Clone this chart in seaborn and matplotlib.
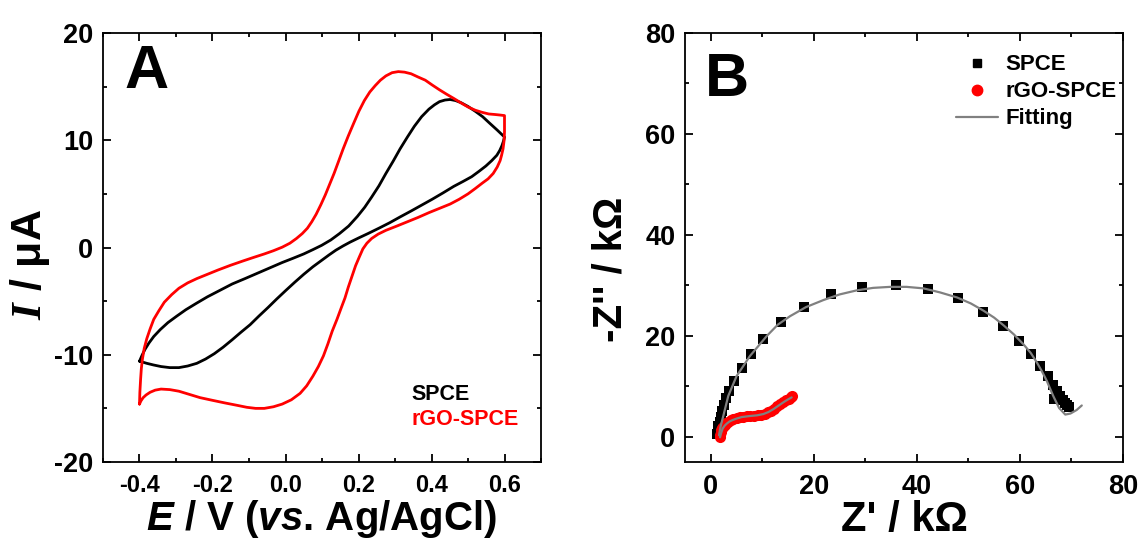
import matplotlib
matplotlib.use('Agg')
import matplotlib.pyplot as plt
import seaborn as sns
import pandas as pd
from matplotlib.lines import Line2D
from matplotlib.ticker import MultipleLocator, FormatStrFormatter

# ---------------- Panel A: cyclic voltammograms ----------------
spce_E = [-0.400, -0.393, -0.385, -0.374, -0.361, -0.343, -0.322, -0.298, -0.273, -0.244,
          -0.214, -0.180, -0.146, -0.111, -0.077, -0.043, -0.009, 0.021, 0.050, 0.075,
          0.099, 0.124, 0.148, 0.173, 0.197, 0.217, 0.236, 0.256, 0.275, 0.295,
          0.314, 0.334, 0.353, 0.373, 0.393, 0.408, 0.422, 0.437, 0.451, 0.466,
          0.481, 0.500, 0.520, 0.540, 0.559, 0.580, 0.600,
          0.597, 0.593, 0.587, 0.579, 0.565, 0.549, 0.530, 0.510, 0.486, 0.461,
          0.432, 0.402, 0.373, 0.344, 0.314, 0.285, 0.256, 0.226, 0.201, 0.177,
          0.158, 0.138, 0.119, 0.099, 0.075, 0.050, 0.025, 0.001, -0.024, -0.048,
          -0.073, -0.097, -0.122, -0.146, -0.171, -0.195, -0.219, -0.243, -0.268, -0.292,
          -0.317, -0.341, -0.362, -0.380, -0.400]
spce_I = [-10.6, -10.05, -9.5, -8.9, -8.3, -7.65, -7.0, -6.4, -5.8, -5.2,
          -4.6, -4.0, -3.4, -2.9, -2.4, -1.9, -1.4, -1.0, -0.6, -0.2,
          0.2, 0.7, 1.3, 2.0, 2.9, 3.75, 4.7, 5.75, 6.9, 8.05,
          9.2, 10.3, 11.3, 12.2, 12.9, 13.3, 13.6, 13.75, 13.8, 13.7,
          13.5, 13.15, 12.7, 12.2, 11.6, 10.95, 10.3,
          9.9, 9.5, 9.05, 8.6, 8.1, 7.6, 7.1, 6.6, 6.15, 5.7,
          5.1, 4.5, 3.95, 3.4, 2.85, 2.3, 1.8, 1.3, 0.9, 0.5,
          0.15, -0.25, -0.7, -1.2, -1.8, -2.5, -3.25, -4.0, -4.8, -5.6,
          -6.4, -7.2, -7.9, -8.6, -9.3, -9.9, -10.4, -10.8, -11.05, -11.2,
          -11.2, -11.1, -10.95, -10.8, -10.6]

rgo_E = [-0.400, -0.399, -0.397, -0.395, -0.392, -0.387, -0.380, -0.371, -0.361, -0.347,
         -0.332, -0.312, -0.292, -0.268, -0.243, -0.214, -0.185, -0.150, -0.116, -0.087,
         -0.058, -0.033, -0.009, 0.012, 0.030, 0.046, 0.060, 0.072, 0.084, 0.097,
         0.109, 0.121, 0.133, 0.145, 0.158, 0.172, 0.187, 0.201, 0.216, 0.231,
         0.246, 0.260, 0.275, 0.292, 0.309, 0.326, 0.344, 0.363, 0.383, 0.402,
         0.422, 0.441, 0.461, 0.480, 0.500, 0.520, 0.539, 0.557, 0.574, 0.588, 0.600,
         0.600, 0.600, 0.599, 0.596, 0.592, 0.588, 0.580, 0.569, 0.555, 0.539,
         0.520, 0.500, 0.476, 0.451, 0.422, 0.393, 0.363, 0.334, 0.305, 0.275,
         0.254, 0.236, 0.223, 0.212, 0.202, 0.192, 0.182, 0.172, 0.163, 0.153,
         0.141, 0.128, 0.116, 0.104, 0.090, 0.075, 0.058, 0.040, 0.016, -0.009,
         -0.033, -0.058, -0.082, -0.106, -0.135, -0.165, -0.200, -0.234, -0.263, -0.292,
         -0.317, -0.341, -0.357, -0.371, -0.382, -0.390, -0.396, -0.400]
rgo_I = [-14.6, -13.5, -12.3, -11.3, -10.4, -9.4, -8.5, -7.6, -6.7, -5.9,
         -5.1, -4.4, -3.8, -3.3, -2.9, -2.5, -2.1, -1.65, -1.25, -0.92,
         -0.6, -0.3, 0.03, 0.4, 0.84, 1.3, 1.8, 2.4, 3.1, 4.0,
         4.9, 5.9, 6.9, 8.0, 9.2, 10.4, 11.6, 12.7, 13.7, 14.5,
         15.1, 15.6, 16.0, 16.3, 16.4, 16.35, 16.2, 15.9, 15.6, 15.15,
         14.7, 14.3, 13.9, 13.5, 13.1, 12.8, 12.6, 12.45, 12.4, 12.35, 12.3,
         11.5, 10.8, 10.0, 9.2, 8.6, 8.1, 7.5, 6.9, 6.4, 6.0,
         5.5, 5.0, 4.5, 4.05, 3.65, 3.25, 2.8, 2.4, 2.0, 1.6,
         1.25, 0.84, 0.4, -0.13, -0.9, -1.7, -2.7, -3.7, -4.7, -5.6,
         -6.7, -7.8, -9.0, -10.1, -11.1, -12.0, -12.9, -13.6, -14.2, -14.6,
         -14.85, -15.0, -15.0, -14.9, -14.7, -14.5, -14.25, -14.0, -13.7, -13.4,
         -13.25, -13.2, -13.3, -13.5, -13.75, -14.0, -14.3, -14.6]

# ---------------- Panel B: Nyquist plots ----------------
spce_zre = [69.6, 69.2, 68.8, 68.3, 67.8, 67.2, 66.6, 66.4, 65.4, 63.9, 62.1, 59.9, 56.8,
            52.8, 47.9, 42.2, 35.9, 29.4, 23.3, 18.0, 13.6, 10.2, 7.8, 6.0, 4.6, 3.6,
            2.9, 2.5, 2.2, 1.9, 1.7, 1.5, 1.35, 1.2]
spce_zim = [5.8, 6.2, 6.7, 7.3, 8.1, 9.1, 7.5, 10.3, 12.0, 14.0, 16.4, 19.0, 22.0,
            24.8, 27.4, 29.3, 30.1, 29.7, 28.3, 25.8, 22.7, 19.4, 16.4, 13.6, 11.1, 9.1,
            7.6, 6.3, 5.1, 4.0, 3.0, 2.1, 1.3, 0.6]

rgo_zre = [1.7, 1.8, 1.9, 2.0, 2.2, 2.4, 2.7, 3.0, 3.4, 3.9, 4.4, 5.0, 5.6, 6.3, 7.0,
           7.7, 8.4, 9.1, 9.8, 10.5, 11.1, 11.7, 12.3, 12.9, 13.5, 14.1, 14.6, 15.1, 15.5, 15.8]
rgo_zim = [0.0, 0.4, 0.9, 1.3, 1.7, 2.0, 2.4, 2.7, 3.0, 3.3, 3.5, 3.7, 3.85, 4.0, 4.1,
           4.15, 4.2, 4.3, 4.4, 4.6, 4.9, 5.2, 5.6, 6.0, 6.4, 6.8, 7.2, 7.5, 7.8, 8.0]

fit_spce_zre = [1.6, 1.9, 2.45, 3.4, 5.0, 7.6, 10.9, 13.0, 15.4, 18.5, 21.9, 25.0, 28.3,
                31.5, 34.8, 38.0, 41.3, 44.5, 47.8, 50.5, 52.9, 55.0, 56.8, 58.8, 60.7,
                62.1, 63.3, 64.3, 65.2, 66.5, 67.6, 68.8, 69.8, 71.0, 72.0]
fit_spce_zim = [0.3, 2.0, 4.2, 8.1, 12.0, 16.0, 20.0, 22.2, 23.9, 25.7, 27.1, 28.2, 29.0,
                29.5, 29.7, 29.7, 29.4, 28.6, 27.6, 26.4, 25.0, 23.6, 22.1, 20.3, 18.3,
                16.6, 14.7, 12.9, 11.1, 8.0, 5.7, 4.4, 4.6, 5.3, 6.2]

fit_rgo_zre = [1.8, 2.0, 2.3, 2.7, 3.1, 3.6, 4.2, 5.0, 6.0, 7.5, 9.0, 10.2, 11.2, 12.2,
               13.2, 14.2, 15.0, 15.7]
fit_rgo_zim = [-0.1, 0.7, 1.6, 2.2, 2.6, 3.0, 3.3, 3.6, 3.9, 4.1, 4.25, 4.5, 4.9, 5.5,
               6.2, 6.9, 7.4, 7.8]

cv_labels = ['SPCE', 'rGO-SPCE']
eis_labels = ['SPCE', 'rGO-SPCE', 'Fitting']

# ---------------- style ----------------
sns.set_theme(style='ticks')
plt.rcParams['font.family'] = ['Liberation Sans', 'DejaVu Sans']
plt.rcParams['font.weight'] = 'bold'
plt.rcParams['text.color'] = 'black'
plt.rcParams['axes.labelcolor'] = 'black'
plt.rcParams['xtick.color'] = 'black'
plt.rcParams['ytick.color'] = 'black'
plt.rcParams['axes.unicode_minus'] = False
plt.rcParams['mathtext.fontset'] = 'custom'
plt.rcParams['mathtext.bfit'] = 'Liberation Sans:bold:italic'
plt.rcParams['mathtext.cal'] = 'Liberation Serif:bold:italic'
plt.rcParams['mathtext.bf'] = 'Liberation Sans:bold'
plt.rcParams['mathtext.rm'] = 'Liberation Sans:bold'

W, H = 1142, 541
fig = plt.figure(figsize=(W / 100, H / 100), dpi=100)
axA = fig.add_axes([103 / W, (H - 462) / H, 438 / W, 429 / H])
axB = fig.add_axes([685 / W, (H - 462) / H, 438 / W, 429 / H])


def style_axes(ax, xmaj, xmin, ymaj, ymin, xsize, ysize):
    ax.xaxis.set_major_locator(MultipleLocator(xmaj))
    ax.xaxis.set_minor_locator(MultipleLocator(xmin))
    ax.yaxis.set_major_locator(MultipleLocator(ymaj))
    ax.yaxis.set_minor_locator(MultipleLocator(ymin))
    ax.tick_params(which='both', direction='in', top=True, right=True,
                   width=1.3, color='black', labelcolor='black')
    ax.tick_params(which='major', length=5.5)
    ax.tick_params(which='minor', length=3)
    ax.tick_params(axis='x', pad=9, labelsize=xsize)
    ax.tick_params(axis='y', pad=7, labelsize=ysize)
    for lab in ax.get_xticklabels() + ax.get_yticklabels():
        lab.set_fontweight('bold')
    for s in ax.spines.values():
        s.set_linewidth(1.3)
        s.set_color('black')
        s.set_visible(True)
    ax.grid(False)


# ---------------- Panel A ----------------
dfA1 = pd.DataFrame({'E': spce_E, 'I': spce_I})
dfA2 = pd.DataFrame({'E': rgo_E, 'I': rgo_I})
sns.lineplot(data=dfA1, x='E', y='I', sort=False, estimator=None, color='black',
             lw=2.0, ax=axA, label=cv_labels[0])
sns.lineplot(data=dfA2, x='E', y='I', sort=False, estimator=None, color='#ff0000',
             lw=2.0, ax=axA, label=cv_labels[1])
axA.set_xlim(-0.5, 0.7)
axA.set_ylim(-20, 20)
style_axes(axA, 0.2, 0.1, 10, 5, 17, 19.5)
axA.xaxis.set_major_formatter(FormatStrFormatter('%.1f'))
axA.yaxis.set_major_formatter(FormatStrFormatter('%d'))
axA.set_xlabel(r'$\mathbfit{E}$ / V ($\mathbfit{vs}$. Ag/AgCl)', fontsize=29,
               fontweight='bold', labelpad=0)
axA.set_ylabel(r'$\mathcal{I}$ / μA', fontsize=31, fontweight='bold', labelpad=1.5)
axA.yaxis.label.set_y(0.46)
axA.text(0.05, 0.975, 'A', transform=axA.transAxes, fontsize=44, fontweight='bold',
         va='top', ha='left')
legA = axA.legend(handlelength=0, handletextpad=0, frameon=False, fontsize=15.5,
                  loc='lower left', bbox_to_anchor=(0.705, 0.075), borderpad=0,
                  borderaxespad=0, labelspacing=0.2, labelcolor=['black', '#ff0000'])
for h in legA.legend_handles:
    h.set_visible(False)

# ---------------- Panel B ----------------
dfB1 = pd.DataFrame({'Zre': spce_zre, 'Zim': spce_zim})
dfB2 = pd.DataFrame({'Zre': rgo_zre, 'Zim': rgo_zim})
dfF1 = pd.DataFrame({'Zre': fit_spce_zre, 'Zim': fit_spce_zim})
dfF2 = pd.DataFrame({'Zre': fit_rgo_zre, 'Zim': fit_rgo_zim})
sns.scatterplot(data=dfB1, x='Zre', y='Zim', marker='s', s=46, color='black',
                linewidth=0, ax=axB, zorder=3)
sns.scatterplot(data=dfB2, x='Zre', y='Zim', marker='o', s=64, color='#ff0000',
                linewidth=0, ax=axB, zorder=3)
sns.lineplot(data=dfF1, x='Zre', y='Zim', sort=False, estimator=None, color='#808080',
             lw=1.6, ax=axB, zorder=4)
sns.lineplot(data=dfF2, x='Zre', y='Zim', sort=False, estimator=None, color='#808080',
             lw=1.6, ax=axB, zorder=4)
axB.set_xlim(-5, 80)
axB.set_ylim(-5, 80)
style_axes(axB, 20, 10, 20, 10, 19.5, 19.5)
axB.set_xlabel("Z' / kΩ", fontsize=30, fontweight='bold', labelpad=0)
axB.set_ylabel("-Z'' / kΩ", fontsize=29, fontweight='bold', labelpad=11)
axB.yaxis.label.set_y(0.45)
axB.text(0.046, 0.955, 'B', transform=axB.transAxes, fontsize=44, fontweight='bold',
         va='top', ha='left')
handles = [Line2D([], [], marker='s', color='black', ls='none', ms=6),
           Line2D([], [], marker='o', color='#ff0000', ls='none', ms=7.5),
           Line2D([], [], color='#808080', lw=1.6)]
axB.legend(handles, eis_labels, frameon=False, fontsize=16, loc='upper right',
           bbox_to_anchor=(0.985, 0.95), borderpad=0, borderaxespad=0,
           handlelength=1.85, handletextpad=0.35, labelspacing=0.27)

fig.savefig('out.png', dpi=100)
